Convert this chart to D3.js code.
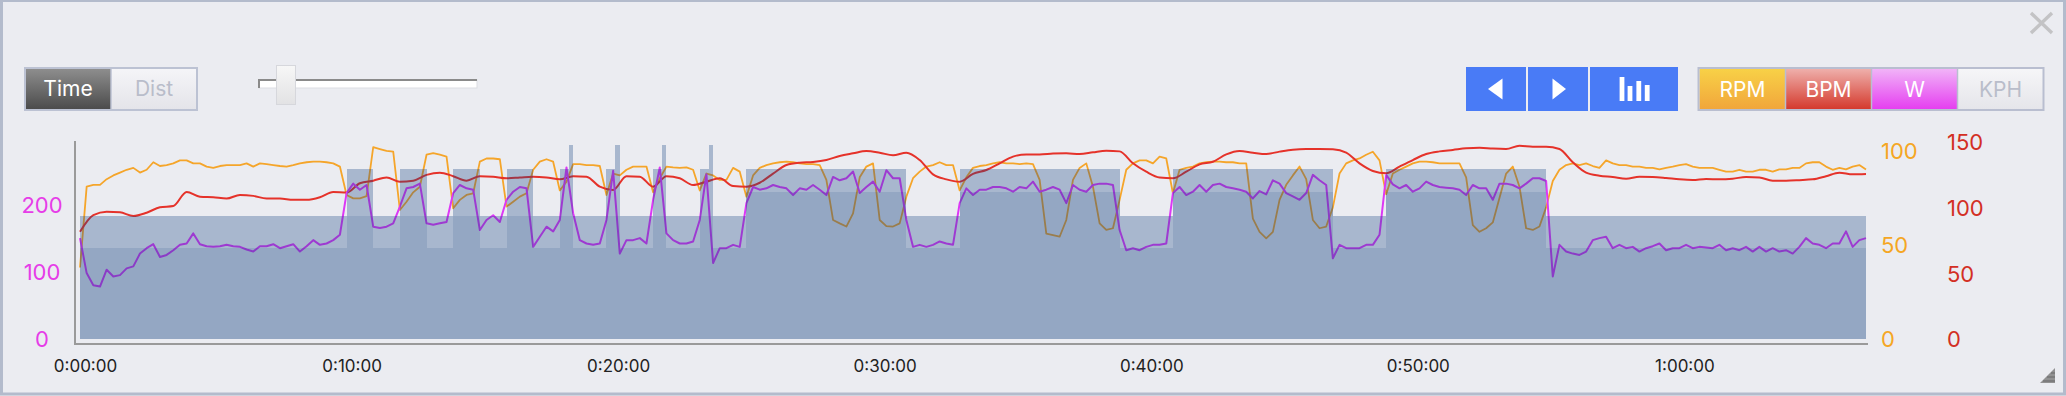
<!DOCTYPE html>
<html>
<head>
<meta charset="utf-8">
<script src="https://cdn.jsdelivr.net/npm/d3@7"></script>
<style>
  html, body { margin: 0; padding: 0; background: #ebecf1; }
  svg { display: block; font-family: Inter, "Noto Sans", sans-serif; }
</style>
</head>
<body>
<svg id="chart" width="2066" height="396"></svg>
<script>
// sample step of each series, in seconds
var powerStep = 15;
var cadenceStep = 15;
var heartStep = 30;

// power, W (every 15 s)
var powerW = [
  150, 98, 80, 78, 103, 93, 95, 105, 108, 127, 135, 141, 122, 125, 132, 140, 142, 157, 141, 138,
  137, 138, 140, 138, 137, 133, 130, 138, 138, 141, 135, 138, 141, 130, 138, 147, 140, 142, 147, 155,
  217, 231, 222, 229, 167, 165, 167, 172, 197, 224, 226, 231, 172, 170, 172, 174, 217, 229, 224, 222,
  162, 177, 184, 174, 207, 219, 226, 224, 137, 152, 167, 160, 177, 255, 187, 147, 142, 140, 142, 177,
  250, 127, 147, 147, 150, 142, 207, 255, 157, 147, 142, 142, 145, 177, 245, 113, 135, 135, 140, 137,
  202, 226, 222, 224, 229, 226, 224, 214, 224, 222, 229, 222, 214, 241, 236, 239, 249, 217, 226, 234,
  219, 251, 239, 239, 177, 137, 140, 137, 140, 145, 142, 140,
  202, 224, 214, 222, 222, 226, 226, 224, 219, 226, 224, 234, 219, 222, 226, 222, 202, 229, 222, 219,
  229, 231, 231, 229, 162, 132, 135, 132, 137, 140, 140, 142,
  217, 226, 214, 219, 229, 219, 229, 231, 226, 224, 222, 219,
  209, 220, 215, 236, 231, 217, 212, 207, 217, 244, 236, 229,
  120, 140, 135, 135, 135, 140, 140, 155,
  244, 230, 224, 229, 219, 224, 234, 229, 226, 225, 224, 222, 214, 229, 224, 224, 207, 231, 231, 229,
  224, 231, 239, 239, 235,
  93, 140, 130, 127, 125, 130, 147, 150, 152, 135, 140, 135, 137, 130, 135, 138, 142, 132, 135,
  135, 140, 135, 137, 136, 135, 140, 132, 135, 132, 137,
  130, 137, 130, 135, 130, 132, 127, 137, 150, 142, 140, 135, 142, 142, 160, 137, 147, 150
];

// cadence, rpm (every 15 s)
var cadenceRpm = [
  38, 81, 82, 82, 85, 87, 88.5, 90, 91, 88.5, 90, 94, 92, 92.5, 93.4, 95, 95, 93.4, 93.4, 91.7,
  91, 92, 92.5, 92.5, 92.5, 93.4, 91.7, 93.4, 93, 92.5, 92, 91.7, 92.5, 93.4, 94, 94.3, 94.3, 94, 93.4, 91.7,
  76.6, 74.8, 74.8, 76, 102, 101, 100, 99.6, 68.6, 73, 78, 81, 98, 98.8, 98, 97, 69.5, 74, 76.6, 77.5,
  94.3, 96, 96, 95.6, 70.4, 73, 75.7, 77.5, 90, 94.3, 95.6, 94.3, 79, 83.7, 93, 93, 92.5, 92.5, 92, 76.6,
  88, 87, 90, 91.7, 91.7, 91.7, 78, 85.5, 91.7, 91.3, 91, 91.3, 90, 79, 88, 87, 84.6, 84.6, 91, 89,
  75.7, 87, 91, 92.5, 93.4, 94, 94.3, 94, 93.4, 93, 93, 92.5, 84.6, 63.3, 61.5, 59.8, 66.8, 86, 91.7, 93.4,
  63.3, 60, 59.8, 61.5, 75.7, 85.5, 89, 91.7, 92.5, 94, 92.5, 92.5,
  79, 86, 91, 92, 92.5, 93.4, 94, 93.4, 93.4, 93, 93.4, 93, 84.6, 56, 55.3, 54.4, 63.3, 84.6, 91, 93.4,
  81, 61.5, 58, 58.9, 74, 90, 93.4, 95, 95, 93.4, 97, 96,
  77.5, 90, 91, 91.7, 93.4, 94, 94.3, 94.3, 94, 94, 93.4, 93.4,
  64, 57, 53.5, 57, 74, 82, 87, 91.7, 85, 63.3, 58.9, 59.8,
  70, 88, 93.4, 95, 96, 98, 99.6, 95,
  77, 88, 90, 91.7, 93.4, 94.3, 94.3, 94, 93.4, 93.4, 93.4, 93.4, 86, 60.6, 57, 58.9, 62, 75, 88, 91.7,
  81, 58.9, 58, 59.8, 70,
  84, 90, 92.5, 93.4, 92.5, 93.4, 92, 91, 95, 93.4, 92.5, 92.5, 91.7, 91.7, 91, 91, 90.2, 91, 91.7,
  92.5, 93, 91.7, 91, 91, 91, 90, 89, 89, 90, 89,
  89, 90, 90, 89, 90.2, 90.2, 91, 91, 93.4, 94, 94, 91.7, 90, 91, 90.2, 91.7, 92.5, 90.2
];

// heart rate, bpm (every 30 s)
var heartBpm = [
  81.7, 94.4, 97, 96.5, 93.7, 96.2, 100.3, 101.3, 112, 108.4, 107.9, 107, 109.7, 109, 107, 107, 106, 106, 108, 112,
  111.5, 118.6, 120.6, 123, 119.8,
  120.6, 125, 126.7, 124, 120.6, 124, 123.6, 122.4, 123, 123.6, 123, 121.6, 124, 123.6, 116, 113.5, 124, 123.6, 116, 124,
  122.4, 117.3, 119.8, 122.4, 116.5, 116,
  119, 126, 132.5, 134.3, 134.8, 136.3, 139.4, 141.4, 143.2, 141.9, 139.9, 141.9, 136.3, 125.4, 121.6, 119.8, 125.7, 128.7, 133.8, 138.9,
  140.6, 140.6, 141.2, 141.4, 140.9, 142.2, 143.4, 142.9, 133.8, 127.4, 123, 122.4, 127.4, 133, 135, 140.6, 143.2, 141.9,
  140.9, 142.7, 144.2, 144.7, 144.7, 144.5, 141.9, 133.8, 128, 126.2, 131.3, 136.3, 140.9, 142.9, 144, 145.2, 145.7, 145, 144.7, 147.2,
  146.5, 146.5, 144.7, 134.6, 126.7, 124.4, 123.4, 122.1, 123.6, 123.4, 122.6, 121.6, 121.1, 121.9, 121.6, 122.1, 123.4,
  123, 120.6, 120.6, 121, 121.6, 124, 126.7, 125.4, 125.7
];

// workout intervals: start (min), end (min), target low / high (W)
var intervalStart = [0, 10, 11, 12, 13, 14, 15, 16, 17, 18, 18.33, 18.5, 19.75, 20.08, 20.25, 21.5, 21.83, 22, 23.25, 23.58, 23.75, 25, 31, 33, 39, 41, 47, 49, 55];
var intervalEnd   = [10, 11, 12, 13, 14, 15, 16, 17, 18, 18.33, 18.5, 19.75, 20.08, 20.25, 21.5, 21.83, 22, 23.25, 23.58, 23.75, 25, 31, 33, 39, 41, 47, 49, 55, 67];
var targetLow     = [135, 183, 135, 183, 135, 183, 135, 183, 135, 183, 183, 135, 183, 183, 135, 183, 183, 135, 183, 183, 135, 219, 135, 219, 135, 219, 135, 219, 135];
var targetHigh    = [183, 253, 183, 253, 183, 253, 183, 253, 183, 253, 288, 183, 253, 288, 183, 253, 288, 183, 253, 288, 183, 253, 183, 253, 183, 253, 183, 253, 183];

var timeTicks = [0, 600, 1200, 1800, 2400, 3000, 3600];
var wattTicks = [0, 100, 200];
var rpmTicks = [0, 50, 100];
var bpmTicks = [0, 50, 100, 150];

var svg = d3.select('#chart');
var defs = svg.append('defs');

function vGrad(id, top, bottom) {
  var g = defs.append('linearGradient').attr('id', id)
    .attr('x1', 0).attr('y1', 0).attr('x2', 0).attr('y2', 1);
  g.append('stop').attr('offset', '0%').attr('stop-color', top);
  g.append('stop').attr('offset', '100%').attr('stop-color', bottom);
}
vGrad('gTime', '#8f8f8f', '#4a4a4a');
vGrad('gDist', '#f5f5f8', '#e4e4e9');
vGrad('gRpm', '#f8d247', '#f1a53b');
vGrad('gBpm', '#efb2ae', '#d4372a');
vGrad('gW', '#f1b6f8', '#e53cf0');
vGrad('gKph', '#f6f6f8', '#e5e5ea');
vGrad('gThumb', '#f7f7f7', '#e2e2e4');

// panel
svg.append('rect')
  .attr('x', 1.5).attr('y', 0.5).attr('width', 2063).attr('height', 393.5)
  .attr('fill', '#ebecf1').attr('stroke', '#b3bbcc').attr('stroke-width', 3);

// scales
var x = d3.scaleLinear().domain([0, 67 * 60]).range([80, 1866]);
var yW = d3.scaleLinear().domain([0, 294.4]).range([339, 141]);
var yRpm = d3.scaleLinear().domain([0, 105.3]).range([339, 141]);
var yBpm = d3.scaleLinear().domain([0, 150.8]).range([339, 141]);

var plot = svg.append('g');

// lines first, interval blocks are laid over them
var cadLine = d3.line().x(function(d, i) { return x(i * cadenceStep); }).y(function(d) { return yRpm(d); });
var hrLine = d3.line().x(function(d, i) { return x(i * heartStep); }).y(function(d) { return yBpm(d); })
  .curve(d3.curveMonotoneX);
var pwrLine = d3.line().x(function(d, i) { return x(i * powerStep); }).y(function(d) { return yW(d); });

plot.append('path').datum(cadenceRpm).attr('d', cadLine)
  .attr('fill', 'none').attr('stroke', '#f5a52a').attr('stroke-width', 1.8).attr('stroke-linejoin', 'round');
plot.append('path').datum(heartBpm).attr('d', hrLine)
  .attr('fill', 'none').attr('stroke', '#e5322a').attr('stroke-width', 2).attr('stroke-linejoin', 'round');
plot.append('path').datum(powerW).attr('d', pwrLine)
  .attr('fill', 'none').attr('stroke', '#dc38f5').attr('stroke-width', 2).attr('stroke-linejoin', 'round');

var segs = intervalStart.map(function(s, i) {
  return { s: s, e: intervalEnd[i], lo: targetLow[i], hi: targetHigh[i] };
});

var blocks = plot.append('g').attr('shape-rendering', 'crispEdges');
blocks.selectAll('rect.lo').data(segs).enter().append('rect')
  .attr('class', 'lo')
  .attr('x', function(d) { return Math.round(x(d.s * 60)); })
  .attr('width', function(d) { return Math.round(x(d.e * 60)) - Math.round(x(d.s * 60)); })
  .attr('y', function(d) { return Math.round(yW(d.lo)); })
  .attr('height', function(d) { return yW(0) - Math.round(yW(d.lo)); })
  .attr('fill', 'rgba(18,66,128,0.40)');
blocks.selectAll('rect.hi').data(segs).enter().append('rect')
  .attr('class', 'hi')
  .attr('x', function(d) { return Math.round(x(d.s * 60)); })
  .attr('width', function(d) { return Math.round(x(d.e * 60)) - Math.round(x(d.s * 60)); })
  .attr('y', function(d) { return Math.round(yW(d.hi)); })
  .attr('height', function(d) { return Math.round(yW(d.lo)) - Math.round(yW(d.hi)); })
  .attr('fill', 'rgba(18,66,128,0.31)');

// axis lines
svg.append('line').attr('x1', 75).attr('x2', 75).attr('y1', 141).attr('y2', 345)
  .attr('stroke', '#9a9a9a').attr('stroke-width', 2);
svg.append('line').attr('x1', 74).attr('x2', 1868).attr('y1', 344).attr('y2', 344)
  .attr('stroke', '#9a9a9a').attr('stroke-width', 2);

function fmtTime(s) {
  var h = Math.floor(s / 3600), m = Math.floor((s % 3600) / 60), sec = s % 60;
  return h + ':' + (m < 10 ? '0' : '') + m + ':' + (sec < 10 ? '0' : '') + sec;
}

function clean(g) {
  g.select('.domain').remove();
  g.selectAll('.tick line').remove();
  g.attr('font-family', null).attr('font-size', null);
}

svg.append('g').attr('transform', 'translate(5,371.5)')
  .call(d3.axisBottom(x).tickValues(timeTicks).tickFormat(fmtTime).tickSize(0))
  .call(clean)
  .selectAll('text').attr('y', 0).attr('dy', null)
  .attr('font-size', 17).attr('fill', '#222');

svg.append('g').attr('transform', 'translate(42,0)')
  .call(d3.axisLeft(yW).tickValues(wattTicks).tickSize(0))
  .call(clean)
  .selectAll('text').attr('x', 0).attr('dy', '0.36em').attr('text-anchor', 'middle')
  .attr('font-size', 22).attr('fill', '#e63ce8');

svg.append('g').attr('transform', 'translate(1881,0)')
  .call(d3.axisRight(yRpm).tickValues(rpmTicks).tickSize(0))
  .call(clean)
  .selectAll('text').attr('x', 0).attr('dy', '0.36em').attr('text-anchor', 'start')
  .attr('font-size', 22).attr('fill', '#f5a623');

svg.append('g').attr('transform', 'translate(1947,0)')
  .call(d3.axisRight(yBpm).tickValues(bpmTicks).tickSize(0))
  .call(clean)
  .selectAll('text').attr('x', 0).attr('dy', '0.36em').attr('text-anchor', 'start')
  .attr('font-size', 22).attr('fill', '#d32f24');

// Time / Dist toggle
var tog = svg.append('g');
tog.append('rect').attr('x', 25).attr('y', 68).attr('width', 86).attr('height', 42).attr('fill', 'url(#gTime)');
tog.append('rect').attr('x', 111).attr('y', 68).attr('width', 86).attr('height', 42).attr('fill', 'url(#gDist)');
tog.append('rect').attr('x', 25).attr('y', 68).attr('width', 172).attr('height', 42)
  .attr('fill', 'none').attr('stroke', '#bcc2d3').attr('stroke-width', 2);
tog.append('line').attr('x1', 111).attr('x2', 111).attr('y1', 68).attr('y2', 110)
  .attr('stroke', '#bcc2d3').attr('stroke-width', 1.5);
tog.append('text').attr('x', 68).attr('y', 96).attr('text-anchor', 'middle')
  .attr('font-size', 21).attr('fill', '#fff').text('Time');
tog.append('text').attr('x', 154).attr('y', 96).attr('text-anchor', 'middle')
  .attr('font-size', 21).attr('fill', '#b9bdca').text('Dist');

// zoom slider
svg.append('rect').attr('x', 259).attr('y', 80).attr('width', 218).attr('height', 8)
  .attr('fill', '#fff').attr('stroke', '#dcdde3').attr('stroke-width', 1);
svg.append('path').attr('d', 'M259,88V80H477').attr('fill', 'none').attr('stroke', '#8a8a8a').attr('stroke-width', 2);
svg.append('rect').attr('x', 276.5).attr('y', 65.5).attr('width', 19).attr('height', 39)
  .attr('fill', 'url(#gThumb)').attr('stroke', '#d6d7dc').attr('stroke-width', 1);

// navigation buttons
var nav = svg.append('g');
[[1466, 60], [1528, 60], [1590, 88]].forEach(function(b) {
  nav.append('rect').attr('x', b[0]).attr('y', 67).attr('width', b[1]).attr('height', 44).attr('fill', '#497bf6');
});
nav.append('path').attr('d', 'M1488,89 L1502.5,78.5 L1502.5,99.5 Z').attr('fill', '#fff');
nav.append('path').attr('d', 'M1566,89 L1552.5,78.5 L1552.5,99.5 Z').attr('fill', '#fff');
[[1619.6, 77], [1627.6, 86], [1636.4, 81], [1644.8, 85]].forEach(function(b) {
  nav.append('rect').attr('x', b[0]).attr('y', b[1]).attr('width', 4.8).attr('height', 101 - b[1]).attr('fill', '#fff');
});

// series toggles
var ser = svg.append('g');
var serNames = ['RPM', 'BPM', 'W', 'KPH'];
var serFill = ['url(#gRpm)', 'url(#gBpm)', 'url(#gW)', 'url(#gKph)'];
var serText = ['#fff', '#fff', '#fff', '#b9bdca'];
serNames.forEach(function(n, i) {
  var x0 = 1699.5 + i * 86;
  ser.append('rect').attr('x', x0).attr('y', 68).attr('width', 86).attr('height', 42).attr('fill', serFill[i]);
  ser.append('text').attr('x', x0 + 43).attr('y', 96.5).attr('text-anchor', 'middle')
    .attr('font-size', 21).attr('fill', serText[i]).text(n);
  if (i > 0) {
    ser.append('line').attr('x1', x0).attr('x2', x0).attr('y1', 68).attr('y2', 110)
      .attr('stroke', '#b9bed0').attr('stroke-width', 1.5);
  }
});
ser.append('rect').attr('x', 1698.5).attr('y', 68).attr('width', 345).attr('height', 42)
  .attr('fill', 'none').attr('stroke', '#b9bed0').attr('stroke-width', 2);

// close cross
svg.append('path').attr('d', 'M2031,13 L2052,33 M2052,13 L2031,33')
  .attr('stroke', '#c3c3c5').attr('stroke-width', 3.4).attr('fill', 'none');

// resize grip
var grip = svg.append('g').attr('stroke', '#6a6a6a').attr('stroke-width', 1.6);
[0, 4, 8, 12].forEach(function(o) {
  grip.append('line').attr('x1', 2055 - o).attr('y1', 369 + o).attr('x2', 2055).attr('y2', 369 + o);
});
grip.append('path').attr('d', 'M2055,368 L2040,383 L2055,383 Z').attr('fill', '#7a7a7a').attr('stroke', 'none').attr('opacity', 0.8);
</script>
</body>
</html>
